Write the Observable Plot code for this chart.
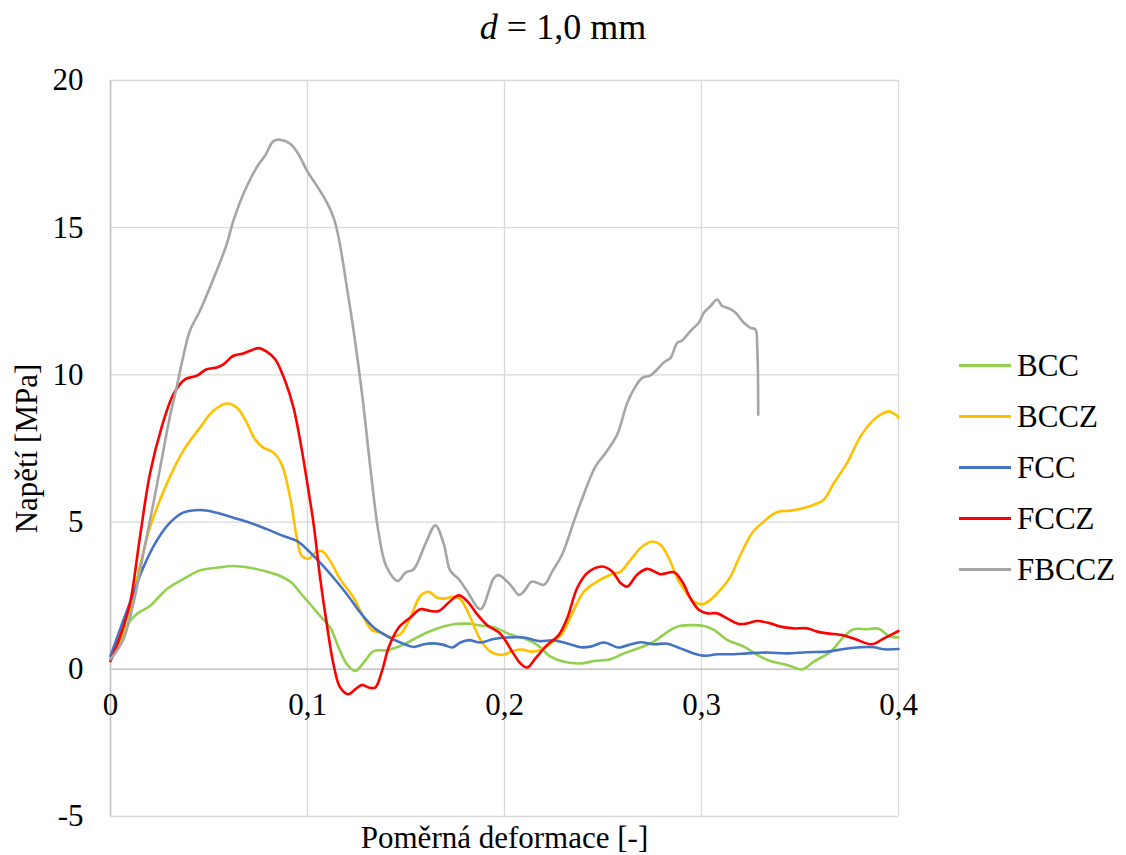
<!DOCTYPE html>
<html><head><meta charset="utf-8">
<script src="https://cdn.jsdelivr.net/npm/d3@7"></script>
<script src="https://cdn.jsdelivr.net/npm/@observablehq/plot@0.6"></script>
<style>
body{margin:0;background:#fff;}
#wrap, #wrap *, #wrap svg text {font-family:"Liberation Serif", serif !important;}
#wrap{position:relative;width:1126px;height:855px;}
#title{height:60px;text-align:center;font-size:36px;line-height:54px;color:#000;}
#legend{position:absolute;left:959px;top:340px;}
.item{display:flex;align-items:center;height:51px;font-size:31px;color:#000;}
.sw{width:52px;height:3px;margin-right:6px;}
</style></head>
<body><div id="wrap"><div id="title"><i>d</i> = 1,0 mm</div><div id="chart"></div><div id="legend"></div></div>
<script>
const seriesNames = ["BCC", "BCCZ", "FCC", "FCCZ", "FBCCZ"];
const seriesColors = ["#92D050", "#FFC000", "#4472C4", "#FF0000", "#A5A5A5"];
const xTicks = [0, 0.1, 0.2, 0.3, 0.4];
const yTicks = [-5, 0, 5, 10, 15, 20];

const BCC = [[0,0.34],[0.0064,1.3],[0.0132,1.87],[0.02,2.15],[0.0285,2.72],[0.0369,3.06],[0.0454,3.36],[0.0539,3.45],[0.0624,3.51],[0.0708,3.45],[0.0793,3.32],[0.0861,3.17],[0.092,2.94],[0.0963,2.6],[0.1014,2.21],[0.1064,1.81],[0.1115,1.42],[0.1158,0.74],[0.12,0.17],[0.1242,-0.06],[0.1285,0.23],[0.1336,0.62],[0.1403,0.65],[0.1471,0.79],[0.1539,1.02],[0.1607,1.25],[0.1675,1.42],[0.1742,1.53],[0.181,1.55],[0.1878,1.49],[0.1946,1.43],[0.203,1.18],[0.2098,1.05],[0.2166,0.83],[0.2234,0.43],[0.2301,0.26],[0.2386,0.2],[0.2454,0.28],[0.2538,0.34],[0.2606,0.54],[0.269,0.74],[0.2758,0.94],[0.2817,1.22],[0.2877,1.45],[0.2944,1.5],[0.3012,1.47],[0.3063,1.34],[0.313,1.0],[0.3215,0.77],[0.3283,0.49],[0.335,0.28],[0.3435,0.15],[0.3511,0.0],[0.357,0.26],[0.3655,0.6],[0.3723,1.11],[0.3773,1.36],[0.3841,1.36],[0.39,1.38],[0.3951,1.13],[0.4,1.08]];

const BCCZ = [[0,0.34],[0.0081,1.42],[0.0132,3.0],[0.02,4.81],[0.0285,6.29],[0.0369,7.42],[0.0454,8.21],[0.0522,8.78],[0.059,9.03],[0.0641,8.89],[0.0683,8.49],[0.0734,7.81],[0.0776,7.53],[0.0827,7.36],[0.0869,6.96],[0.0912,5.83],[0.0946,4.47],[0.0971,3.85],[0.1005,3.76],[0.1039,3.96],[0.1073,4.02],[0.1115,3.68],[0.1166,3.06],[0.1234,2.43],[0.1285,1.76],[0.1327,1.33],[0.1369,1.25],[0.142,1.1],[0.1471,1.19],[0.1522,1.76],[0.1573,2.49],[0.1615,2.63],[0.1658,2.43],[0.1692,2.4],[0.1742,2.46],[0.1776,2.38],[0.1827,1.76],[0.1878,1.0],[0.1929,0.6],[0.1988,0.49],[0.2047,0.63],[0.209,0.67],[0.2132,0.6],[0.2183,0.66],[0.2234,0.88],[0.2293,1.22],[0.2344,1.9],[0.2403,2.64],[0.247,2.98],[0.2538,3.21],[0.2589,3.32],[0.264,3.72],[0.2699,4.17],[0.275,4.34],[0.2792,4.23],[0.2834,3.78],[0.2877,3.1],[0.2919,2.64],[0.2961,2.3],[0.3003,2.21],[0.3046,2.36],[0.3096,2.7],[0.3147,3.15],[0.3198,3.89],[0.3257,4.63],[0.3316,5.02],[0.3384,5.34],[0.3452,5.39],[0.3519,5.48],[0.357,5.59],[0.3621,5.76],[0.3672,6.33],[0.3739,7.01],[0.3807,7.91],[0.3866,8.42],[0.3909,8.65],[0.3951,8.76],[0.3985,8.65],[0.4,8.55]];

const FCC = [[0,0.45],[0.0064,1.64],[0.0115,2.55],[0.0166,3.45],[0.0234,4.36],[0.0302,4.98],[0.0369,5.32],[0.0454,5.41],[0.0539,5.32],[0.0624,5.15],[0.0708,4.98],[0.0793,4.76],[0.0878,4.53],[0.0946,4.36],[0.0997,4.08],[0.1064,3.62],[0.1132,3.11],[0.12,2.55],[0.1268,1.93],[0.1336,1.42],[0.1403,1.13],[0.1471,0.91],[0.1539,0.76],[0.159,0.85],[0.1641,0.88],[0.1692,0.83],[0.1734,0.74],[0.1776,0.91],[0.1819,0.99],[0.1878,0.91],[0.1946,1.03],[0.2014,1.08],[0.2098,1.08],[0.2174,0.96],[0.225,0.98],[0.2318,0.88],[0.2386,0.75],[0.2437,0.77],[0.2504,0.91],[0.258,0.74],[0.2631,0.83],[0.269,0.92],[0.2758,0.85],[0.2826,0.87],[0.2893,0.71],[0.2961,0.54],[0.302,0.46],[0.308,0.51],[0.3164,0.51],[0.3232,0.54],[0.3333,0.57],[0.3435,0.54],[0.3537,0.58],[0.3638,0.6],[0.3723,0.69],[0.3807,0.75],[0.3875,0.75],[0.3926,0.68],[0.4,0.69]];

const FCCZ = [[0,0.28],[0.0047,1.08],[0.0098,2.21],[0.0149,4.47],[0.02,6.63],[0.0259,8.21],[0.0319,9.34],[0.0378,9.85],[0.0437,9.97],[0.0488,10.19],[0.0539,10.25],[0.0573,10.36],[0.0624,10.65],[0.0675,10.73],[0.0717,10.84],[0.0751,10.91],[0.0793,10.79],[0.0836,10.53],[0.0886,9.8],[0.0929,8.89],[0.0963,7.76],[0.0997,6.4],[0.1031,4.93],[0.1064,3.11],[0.1098,1.53],[0.1132,0.17],[0.1166,-0.62],[0.1208,-0.85],[0.1242,-0.68],[0.1276,-0.53],[0.131,-0.62],[0.1344,-0.62],[0.1378,-0.06],[0.1412,0.74],[0.1463,1.42],[0.1522,1.76],[0.1573,2.04],[0.1624,1.98],[0.1666,1.98],[0.1717,2.27],[0.1768,2.51],[0.181,2.32],[0.1861,1.87],[0.1912,1.5],[0.198,1.2],[0.2039,0.6],[0.2081,0.2],[0.2115,0.06],[0.2157,0.37],[0.2217,0.83],[0.2276,1.17],[0.2318,1.73],[0.2369,2.76],[0.242,3.27],[0.2496,3.49],[0.2547,3.32],[0.2589,2.93],[0.2623,2.81],[0.2673,3.21],[0.2724,3.41],[0.2792,3.23],[0.286,3.3],[0.2902,2.98],[0.2944,2.41],[0.2986,2.02],[0.3029,1.9],[0.308,1.9],[0.313,1.73],[0.3189,1.54],[0.3232,1.56],[0.3283,1.64],[0.335,1.56],[0.3401,1.45],[0.3469,1.39],[0.3537,1.39],[0.3587,1.28],[0.3638,1.22],[0.3723,1.15],[0.379,1.0],[0.3866,0.85],[0.3926,1.05],[0.4,1.3]];

const FBCCZ = [[0,0.34],[0.0064,1.0],[0.0115,2.2],[0.0166,3.9],[0.0234,6.2],[0.0302,8.6],[0.0332,9.46],[0.0365,10.5],[0.0403,11.5],[0.0454,12.18],[0.0539,13.54],[0.059,14.44],[0.0624,15.24],[0.0675,16.15],[0.0742,17.05],[0.0785,17.45],[0.0827,17.94],[0.0861,17.99],[0.0912,17.85],[0.0954,17.5],[0.0997,16.94],[0.1047,16.43],[0.1098,15.86],[0.1132,15.35],[0.1158,14.67],[0.12,12.97],[0.1234,11.5],[0.1278,9.3],[0.1325,6.5],[0.1362,4.6],[0.14,3.5],[0.1459,3.0],[0.1497,3.28],[0.1539,3.4],[0.1598,4.25],[0.1649,4.89],[0.1692,4.25],[0.1725,3.34],[0.1768,3.06],[0.181,2.66],[0.1878,2.04],[0.1946,3.1],[0.197,3.2],[0.203,2.87],[0.2073,2.53],[0.2098,2.64],[0.214,2.98],[0.22,2.87],[0.2242,3.32],[0.2292,3.89],[0.2352,5.02],[0.2386,5.65],[0.2462,6.89],[0.2513,7.35],[0.2572,7.97],[0.2623,9.05],[0.2665,9.61],[0.2699,9.9],[0.2741,9.98],[0.2775,10.19],[0.281,10.43],[0.2843,10.58],[0.2877,11.09],[0.2902,11.17],[0.2944,11.49],[0.2986,11.77],[0.3012,12.11],[0.3046,12.34],[0.308,12.56],[0.3105,12.34],[0.3139,12.26],[0.3173,12.11],[0.3215,11.77],[0.3249,11.6],[0.3274,11.54],[0.3283,10.92],[0.3288,8.65]];

const seriesData = [BCC, BCCZ, FCC, FCCZ, FBCCZ];
const fontFamily = '"Liberation Serif", serif';
const fmt = d => String(d).replace(".", ",");

const lines = seriesData.map((data, i) => Plot.line(data, {
  x: d => d[0], y: d => d[1], stroke: seriesColors[i], strokeWidth: 2.6, curve: "catmull-rom"
}));

const chart = Plot.plot({
  width: 1126, height: 795,
  marginTop: 20, marginBottom: 39, marginLeft: 110, marginRight: 228,
  style: {fontFamily, fontSize: "31px", color: "#000", background: "#fff", overflow: "visible"},
  x: {domain: [0, 0.4]},
  y: {domain: [-5, 20]},
  marks: [
    Plot.gridX(xTicks, {stroke: "#d9d9d9", strokeOpacity: 1, strokeWidth: 1.3}),
    Plot.gridY(yTicks, {stroke: "#d9d9d9", strokeOpacity: 1, strokeWidth: 1.3}),
    Plot.ruleX([0], {stroke: "#c4c4c4", strokeWidth: 1.6}),
    Plot.ruleY([0], {stroke: "#c4c4c4", strokeWidth: 1.6}),
    Plot.axisY(yTicks, {tickSize: 0, tickPadding: 27, tickFormat: d => String(d), fontSize: 31,
      label: "Napětí [MPa]", labelAnchor: "center", labelOffset: 96, labelArrow: "none"}),
    Plot.axisX({anchor: "bottom", ticks: [], tickSize: 0, fontSize: 31,
      label: "Poměrná deformace [-]", labelAnchor: "center", labelOffset: 31, labelArrow: "none"}),
    Plot.text(xTicks, {x: d => d, y: 0, text: fmt, dy: 24, lineAnchor: "top", fontSize: 31, fill: "#000"}),
    ...lines
  ]
});
document.getElementById("chart").appendChild(chart);

const legend = document.getElementById("legend");
seriesNames.forEach((name, i) => {
  const item = document.createElement("div");
  item.className = "item";
  const sw = document.createElement("div");
  sw.className = "sw";
  sw.style.background = seriesColors[i];
  const t = document.createElement("span");
  t.textContent = name;
  item.appendChild(sw); item.appendChild(t);
  legend.appendChild(item);
});
</script>
</body></html>
